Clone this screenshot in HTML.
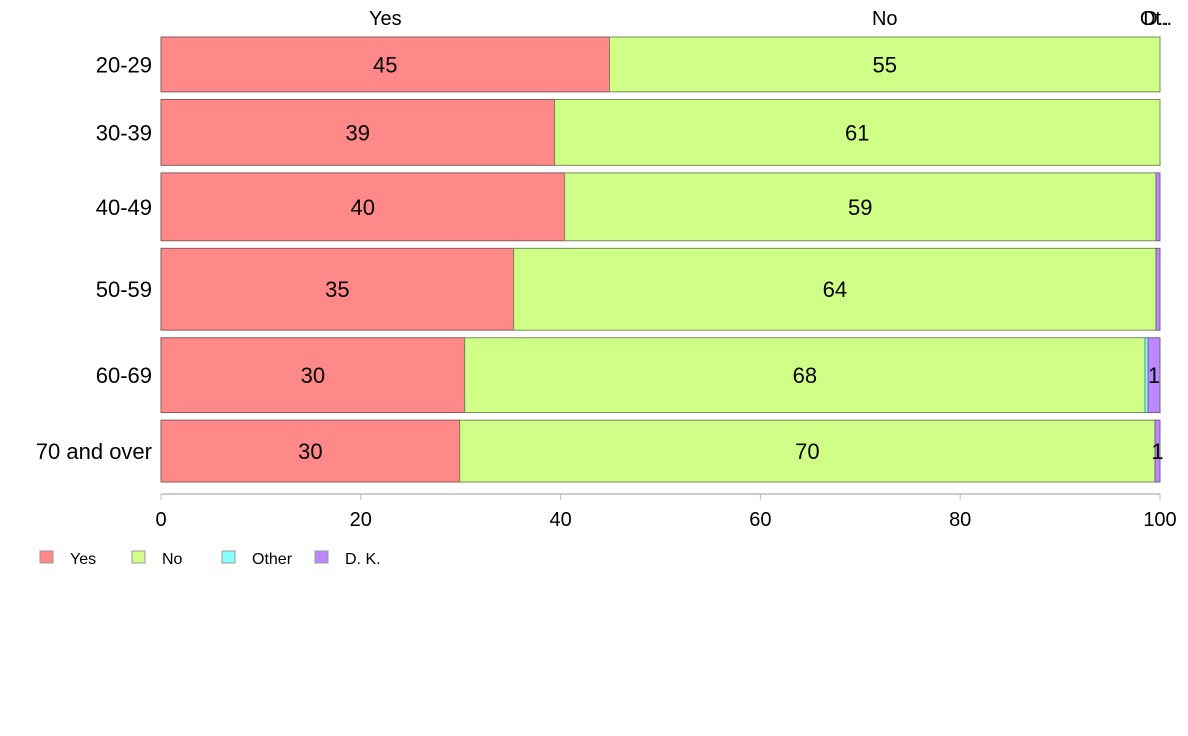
<!DOCTYPE html>
<html><head><meta charset="utf-8"><style>
body{margin:0;background:#fff;font-family:"Liberation Sans",Arial,sans-serif}
svg{display:block}
</style></head><body>
<svg id="chart" width="1188" height="736"></svg>
<script>
const categories = ["20-29","30-39","40-49","50-59","60-69","70 and over"];
const seriesNames = ["Yes","No","Other","D. K."];
const yesVals = [44.9,39.4,40.4,35.3,30.4,29.9];
const noVals = [55.1,60.6,59.2,64.3,68.1,69.6];
const otherVals = [0,0,0,0,0.3,0];
const dkVals = [0,0,0.4,0.4,1.2,0.5];
const rowWeights = [55,66,68,82,75,62];
const xTicks = [0,20,40,60,80,100];
const colors = ["#ff8888","#d0ff88","#88ffff","#bb88ff"];
const strokes = ["#8a5a5a","#7a8a5a","#5a8a8a","#7a5a8a"];

const svg = document.getElementById('chart');
const NS = 'http://www.w3.org/2000/svg';
function mk(tag, attrs, parent){const e=document.createElementNS(NS,tag);for(const k in attrs)e.setAttribute(k,attrs[k]);(parent||svg).appendChild(e);return e;}
const x0=161,x1=1160;
const xs = v => x0 + (x1-x0)*v/100;
const yTop=37, yBot=482, gap=7.6;
const totalW = rowWeights.reduce((a,b)=>a+b,0);
const avail = (yBot-yTop) - gap*(categories.length-1);
const series=[yesVals,noVals,otherVals,dkVals];
let y=yTop;
categories.forEach((cat,i)=>{
  const h = avail*rowWeights[i]/totalW;
  let acc=0;
  series.forEach((s,j)=>{
    const v=s[i]; if(v<=0) return;
    const r=mk('rect',{x:xs(acc),y:y,width:xs(acc+v)-xs(acc),height:h,fill:colors[j],stroke:strokes[j],'stroke-width':1});
    
    
    if(Math.round(v)>=1){
      const t=mk('text',{x:(xs(acc)+xs(acc+v))/2,y:y+h/2+8,'text-anchor':'middle','font-size':22,fill:'#000'});
      t.textContent=Math.round(v);
      
      
    }
    acc+=v;
  });
  const lt=mk('text',{x:152,y:y+h/2+8,'text-anchor':'end','font-size':22,fill:'#000'});
  lt.textContent=cat;
  
  
  y+=h+gap;
});
// top labels from first row
const topLabels=["Yes","No","Ot..","D.."];
let acc=0;
series.forEach((s,j)=>{
  const v=s[0];
  const cx = v>0 ? (xs(acc)+xs(acc+v))/2 : xs(acc)-4;
  const t=mk('text',{x:cx,y:25,'text-anchor':'middle','font-size':20,fill:'#000'});
  t.textContent=topLabels[j];
  
  
  acc+=v;
});
// x axis
const ax=mk('line',{x1:x0,x2:x1,y1:494,y2:494,stroke:'#999'});


xTicks.forEach(v=>{
  const tk=mk('line',{x1:xs(v),x2:xs(v),y1:494,y2:500,stroke:'#bbb'});
  
  
  const t=mk('text',{x:xs(v),y:526,'text-anchor':'middle','font-size':20,fill:'#000'});
  t.textContent=v;
  
  
});
// legend
const legX=[40,132,222,315];
seriesNames.forEach((n,j)=>{
  const g=mk('g',{});
  
  
  mk('rect',{x:legX[j],y:551,width:13,height:12,fill:colors[j],stroke:'#999'},g);
  const t=mk('text',{x:legX[j]+30,y:564,'font-size':16,fill:'#000'},g);
  t.textContent=n;
});
</script>
</body></html>
